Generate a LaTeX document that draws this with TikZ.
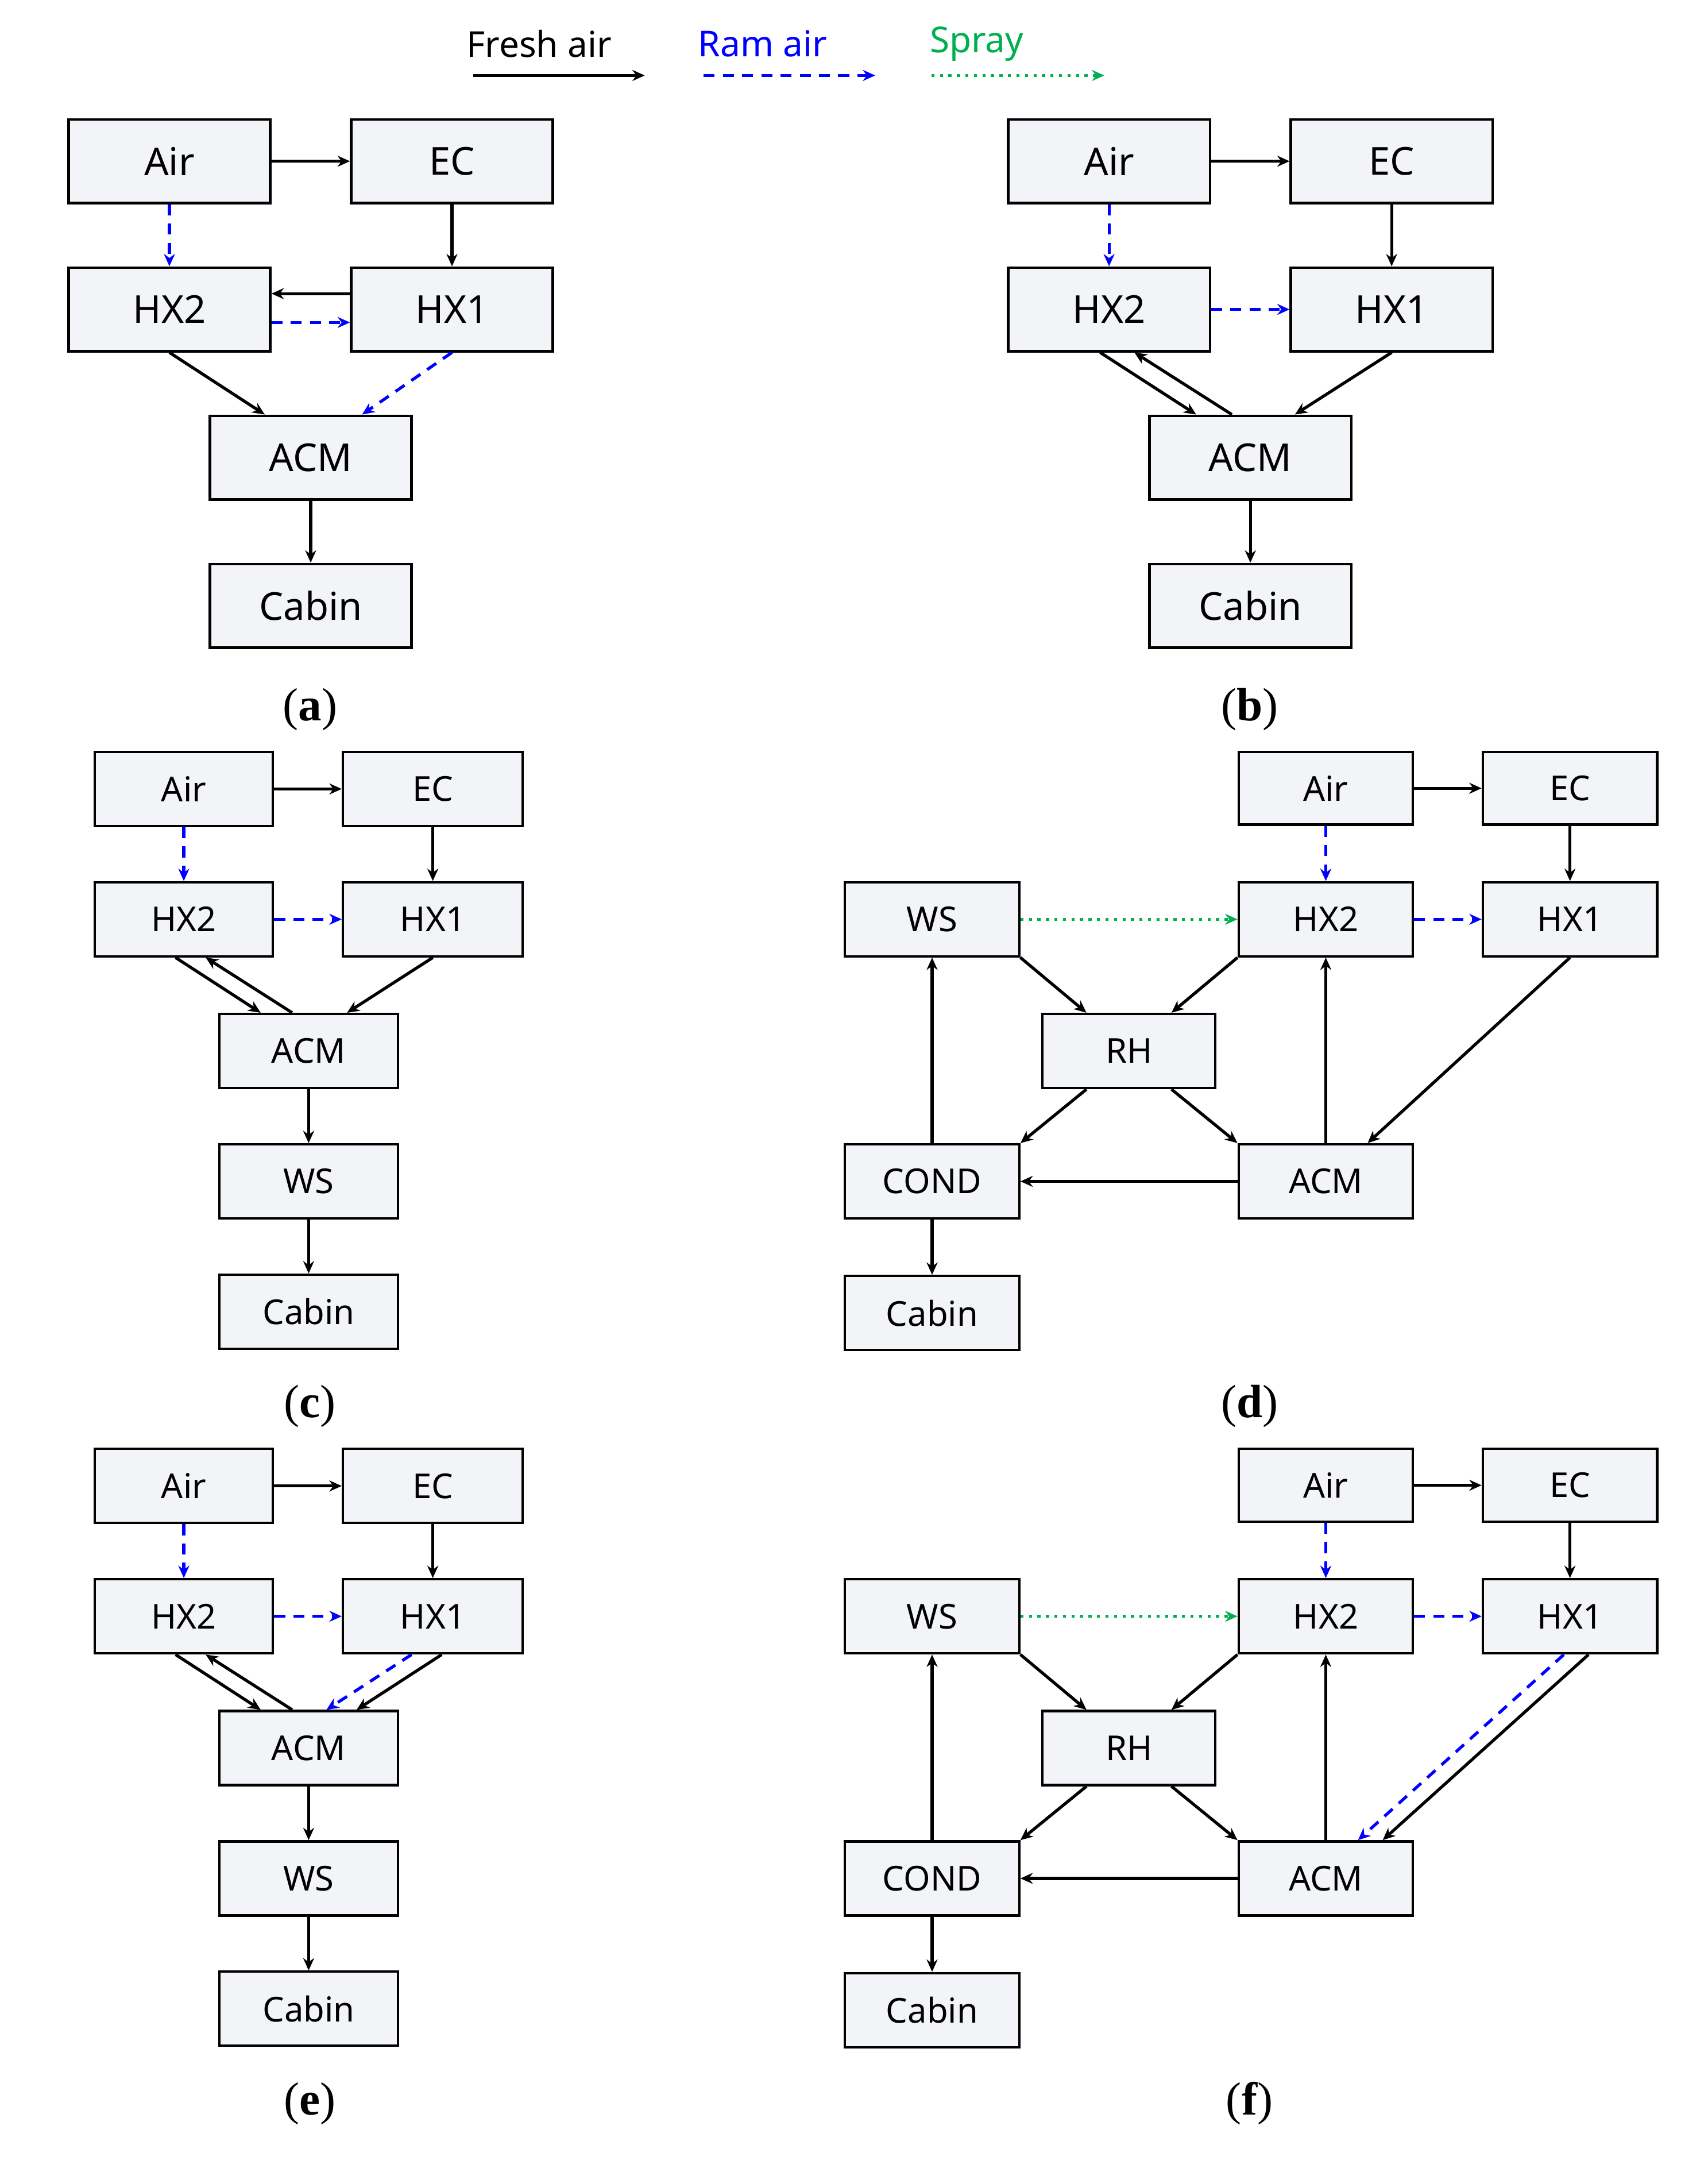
\documentclass[tikz,border=0pt]{standalone}
\usepackage{fontspec}
\setmainfont{Liberation Serif}
\newfontfamily\lblfont{Noto Sans}
\usetikzlibrary{arrows.meta}
\definecolor{boxfill}{HTML}{F2F4F8}
\definecolor{spray}{HTML}{00B050}
\tikzset{x=0.5pt,y=0.5pt,
 box/.style={draw=black,line width=0.9pt,fill=boxfill,inner sep=0pt,font=\lblfont\fontsize{14}{16}\selectfont},
 sbox/.style={box,font=\lblfont\fontsize{12.5}{14}\selectfont},
 fa/.style={draw=black,line width=1.1pt,-{Stealth[length=4.5pt,width=4pt]}},
 ra/.style={draw=blue,line width=1.1pt,dash pattern=on 4pt off 3pt,-{Stealth[length=4.5pt,width=4pt]}},
 sa/.style={draw=spray,line width=1.1pt,dotted,-{Stealth[length=4.5pt,width=4pt]}},
 captxt/.style={font=\fontsize{17}{19}\selectfont}}
\newcommand\bx[7]{\node[#7,minimum width={((#4)-(#2))*0.5pt},minimum height={((#5)-(#3))*0.5pt}] (#1) at ({((#2)+(#4))/2},{-((#3)+(#5))/2}) {#6};}
\begin{document}
\begin{tikzpicture}
\useasboundingbox (0,0) rectangle (1245,-1583);
% legend
\node[font=\lblfont\fontsize{13}{15}\selectfont] (l1) at (393,-32) {Fresh air};
\node[font=\lblfont\fontsize{13}{15}\selectfont,text=blue] (l2) at (556,-32) {Ram air};
\node[font=\lblfont\fontsize{13}{15}\selectfont,text=spray] (l3) at (712,-32) {Spray};
\coordinate (l1a) at (345,-55); \coordinate (l1b) at (470,-55);
\coordinate (l2a) at (513,-55); \coordinate (l2b) at (638,-55);
\coordinate (l3a) at (679,-55); \coordinate (l3b) at (805,-55);
\draw[fa] (l1a)--(l1b); \draw[ra] (l2a)--(l2b); \draw[sa] (l3a)--(l3b);
% (a)
\bx{Aira}{50}{87}{197}{148}{Air}{box}
\bx{ECa}{256}{87}{403}{148}{EC}{box}
\bx{HXba}{50}{195}{197}{256}{HX2}{box}
\bx{HXaa}{256}{195}{403}{256}{HX1}{box}
\bx{ACMa}{153}{303}{300}{364}{ACM}{box}
\bx{Cabina}{153}{411}{300}{472}{Cabin}{box}
\node[captxt] (capa) at (226,-517) {(\textbf{a})};
\draw[fa] (Aira)--(ECa); \draw[ra] (Aira)--(HXba); \draw[fa] (ECa)--(HXaa);
\draw[fa] ([yshift=5.75pt]HXaa.west)--([yshift=5.75pt]HXba.east);
\draw[ra] ([yshift=-4.75pt]HXba.east)--([yshift=-4.75pt]HXaa.west);
\draw[fa] (HXba.south)--([xshift=-16.75pt]ACMa.north);
\draw[ra] (HXaa.south)--([xshift=18.75pt]ACMa.north);
\draw[fa] (ACMa)--(Cabina);
% (b)
\bx{Airb}{735}{87}{882}{148}{Air}{box}
\bx{ECb}{941}{87}{1088}{148}{EC}{box}
\bx{HXbb}{735}{195}{882}{256}{HX2}{box}
\bx{HXab}{941}{195}{1088}{256}{HX1}{box}
\bx{ACMb}{838}{303}{985}{364}{ACM}{box}
\bx{Cabinb}{838}{411}{985}{472}{Cabin}{box}
\node[captxt] (capb) at (911,-517) {(\textbf{b})};
\draw[fa] (Airb)--(ECb); \draw[ra] (Airb)--(HXbb); \draw[fa] (ECb)--(HXab);
\draw[ra] (HXbb)--(HXab);
\draw[fa] ([xshift=-3.25pt]HXbb.south)--([xshift=-19.75pt]ACMb.north);
\draw[fa] ([xshift=-6.75pt]ACMb.north)--([xshift=9.25pt]HXbb.south);
\draw[fa] (HXab.south)--([xshift=16.25pt]ACMb.north);
\draw[fa] (ACMb)--(Cabinb);
% (c) and (e)
\foreach \s/\o in {c/0,e/508}{
\bx{Air\s}{69}{548+\o}{199}{602+\o}{Air}{sbox}
\bx{EC\s}{250}{548+\o}{381}{602+\o}{EC}{sbox}
\bx{HXb\s}{69}{643+\o}{199}{697+\o}{HX2}{sbox}
\bx{HXa\s}{250}{643+\o}{381}{697+\o}{HX1}{sbox}
\bx{ACM\s}{160}{739+\o}{290}{793+\o}{ACM}{sbox}
\bx{WS\s}{160}{834+\o}{290}{888+\o}{WS}{sbox}
\bx{Cabin\s}{160}{929+\o}{290}{983+\o}{Cabin}{sbox}
\node[captxt] (cap\s) at (226,-1025-\o) {(\textbf{\s})};
\draw[fa] (Air\s)--(EC\s); \draw[ra] (Air\s)--(HXb\s); \draw[fa] (EC\s)--(HXa\s);
\draw[ra] (HXb\s)--(HXa\s);
\draw[fa] ([xshift=-3pt]HXb\s.south)--([xshift=-17.5pt]ACM\s.north);
\draw[fa] ([xshift=-6pt]ACM\s.north)--([xshift=8pt]HXb\s.south);
\draw[fa] (ACM\s)--(WS\s); \draw[fa] (WS\s)--(Cabin\s);
}
\draw[fa] (HXac.south)--([xshift=14pt]ACMc.north);
\draw[ra] ([xshift=-7.75pt]HXae.south)--([xshift=6.5pt]ACMe.north);
\draw[fa] ([xshift=3.25pt]HXae.south)--([xshift=17.5pt]ACMe.north);
% (d) and (f)
\foreach \s/\o in {d/0,f/508}{
\bx{Air\s}{903}{548+\o}{1030}{601+\o}{Air}{sbox}
\bx{EC\s}{1081}{548+\o}{1208}{601+\o}{EC}{sbox}
\bx{WS\s}{616}{643+\o}{743}{697+\o}{WS}{sbox}
\bx{HXb\s}{903}{643+\o}{1030}{697+\o}{HX2}{sbox}
\bx{HXa\s}{1081}{643+\o}{1208}{697+\o}{HX1}{sbox}
\bx{RH\s}{760}{739+\o}{886}{793+\o}{RH}{sbox}
\bx{COND\s}{616}{834+\o}{743}{888+\o}{COND}{sbox}
\bx{ACM\s}{903}{834+\o}{1030}{888+\o}{ACM}{sbox}
\bx{Cabin\s}{616}{930+\o}{743}{984+\o}{Cabin}{sbox}
\node[captxt] (cap\s) at (911,-1025-\o) {(\textbf{\s})};
\draw[fa] (Air\s)--(EC\s); \draw[ra] (Air\s)--(HXb\s); \draw[fa] (EC\s)--(HXa\s);
\draw[sa] (WS\s)--(HXb\s); \draw[ra] (HXb\s)--(HXa\s);
\draw[fa] (WS\s.south east)--([xshift=-15.5pt]RH\s.north);
\draw[fa] (HXb\s.south west)--([xshift=15.5pt]RH\s.north);
\draw[fa] ([xshift=-15.5pt]RH\s.south)--(COND\s.north east);
\draw[fa] ([xshift=15.5pt]RH\s.south)--(ACM\s.north west);
\draw[fa] (ACM\s.north)--(HXb\s.south);
\draw[fa] (ACM\s.west)--(COND\s.east);
\draw[fa] (COND\s.north)--(WS\s.south);
\draw[fa] (COND\s)--(Cabin\s);
}
\draw[fa] (HXad.south)--([xshift=15.25pt]ACMd.north);
\draw[ra] ([xshift=-2.25pt]HXaf.south)--([xshift=11.75pt]ACMf.north);
\draw[fa] ([xshift=6.75pt]HXaf.south)--([xshift=20.75pt]ACMf.north);
\end{tikzpicture}
\end{document}
